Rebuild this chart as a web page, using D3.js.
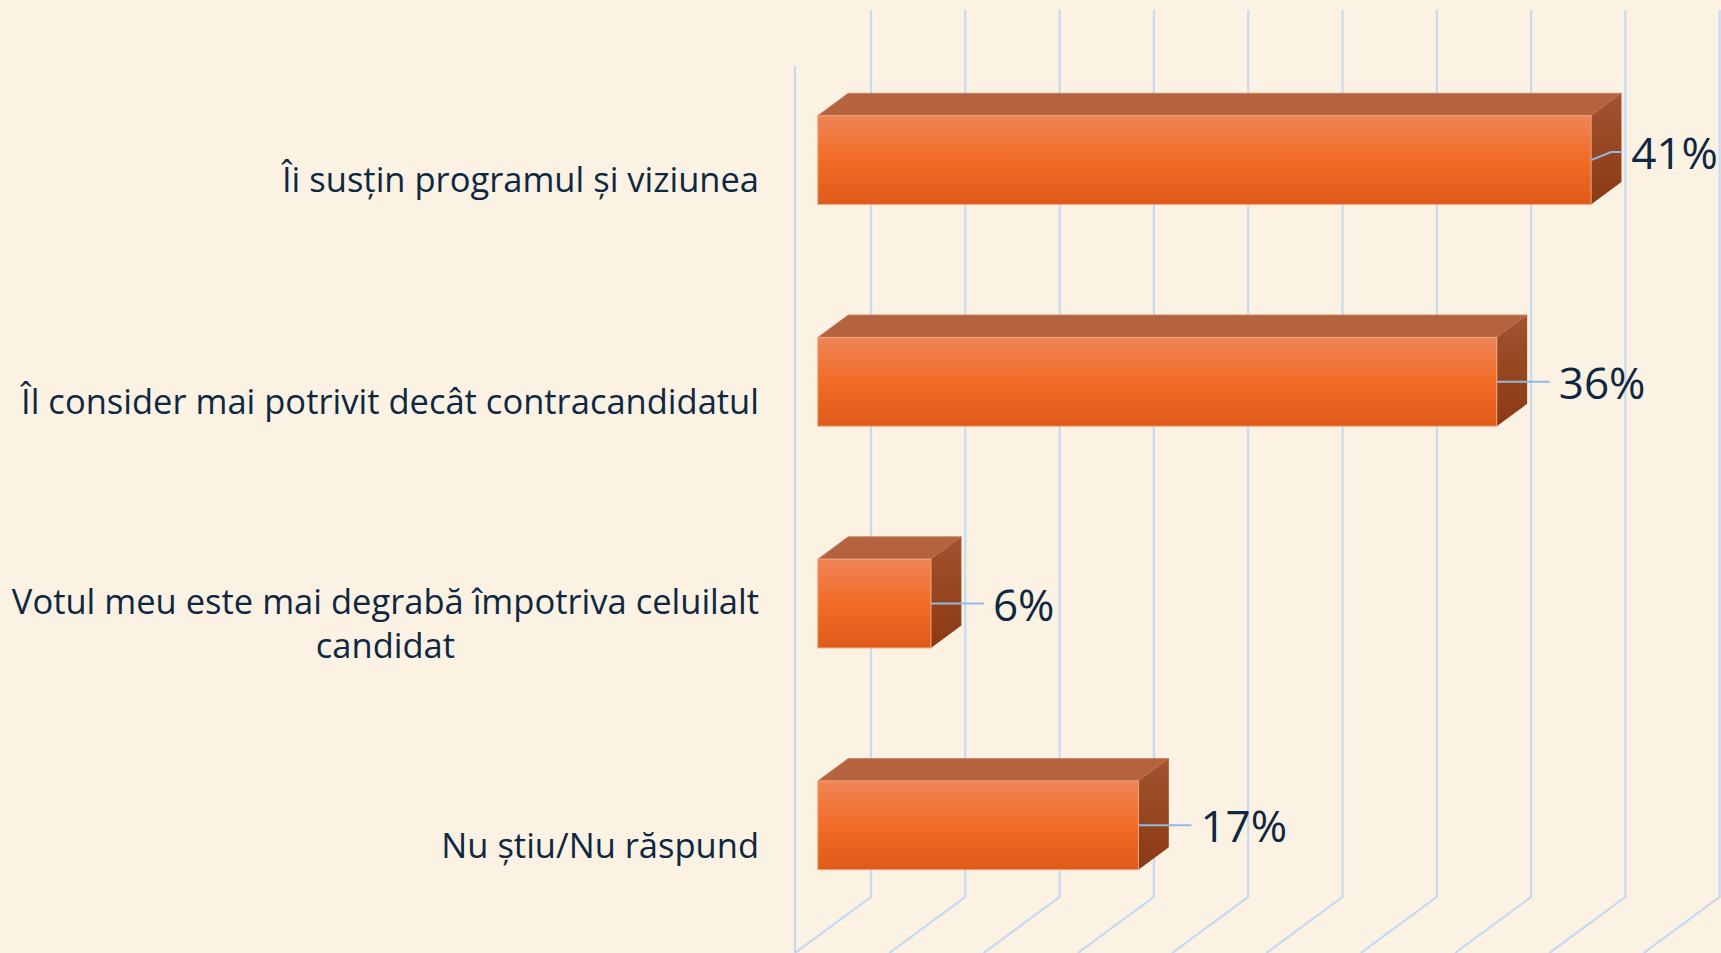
<!DOCTYPE html>
<html>
<head>
<meta charset="utf-8">
<script src="https://cdn.jsdelivr.net/npm/d3@7"></script>
<style>
  html, body { margin: 0; padding: 0; background: #fcf2e4; }
  svg { display: block; }
</style>
</head>
<body>
<svg></svg>
<script>
const categories = [
  'Îi susțin programul și viziunea',
  'Îl consider mai potrivit decât contracandidatul',
  'Votul meu este mai degrabă împotriva celuilalt candidat',
  'Nu știu/Nu răspund',
];
const values = [41, 36, 6, 17];
const ticks = [0, 5, 10, 15, 20, 25, 30, 35, 40, 45];

const width = 1721;
const height = 953;

const svg = d3.select('svg')
  .attr('width', width)
  .attr('height', height);

// front plane of the 3D box, and how far the back wall is pushed
const left = 795;
const depthX = 76;
const depthY = -56;

const x = d3.scaleLinear().domain([0, 45]).range([0, 848.7]);
const y = d3.scaleBand()
  .domain(categories)
  .range([66, 953])
  .paddingInner(0.6)
  .paddingOuter(0.3);

const proj = (v, yy, d) => [left + x(v) + d * depthX, yy + d * depthY];
const pts = arr => arr.map(p => p.join(',')).join(' ');

const defs = svg.append('defs');
const front = defs.append('linearGradient')
  .attr('id', 'front').attr('x1', 0).attr('y1', 0).attr('x2', 0).attr('y2', 1);
front.append('stop').attr('offset', '0%').attr('stop-color', '#ef8456');
front.append('stop').attr('offset', '50%').attr('stop-color', '#f26c26');
front.append('stop').attr('offset', '100%').attr('stop-color', '#df5a19');

const side = defs.append('linearGradient')
  .attr('id', 'side').attr('x1', 0).attr('y1', 0).attr('x2', 0).attr('y2', 1);
side.append('stop').attr('offset', '0%').attr('stop-color', '#a2532f');
side.append('stop').attr('offset', '100%').attr('stop-color', '#8a3913');

// back wall + floor gridlines
const yTop = y.range()[0];
const yBot = y.range()[1];
const grid = svg.append('g')
  .attr('stroke', '#c6daf0')
  .attr('stroke-width', 2.2)
  .attr('fill', 'none');

grid.selectAll('.g')
  .data(ticks)
  .enter().append('polyline')
  .attr('points', t => pts([
    proj(t, yTop, 1),
    proj(t, yBot, 1),
    proj(t, yBot, 0),
  ]));

grid.append('line')
  .attr('x1', left).attr('y1', yTop)
  .attr('x2', left).attr('y2', yBot);

// bars
const bars = svg.append('g')
  .selectAll('g')
  .data(categories.map((c, i) => ({ c, v: values[i] })))
  .enter().append('g');

const d0 = 0.3;
const d1 = 0.7;

bars.append('polygon')
  .attr('fill', '#b5633f')
  .attr('stroke', '#c7825f')
  .attr('stroke-width', 1)
  .attr('points', d => {
    const t = y(d.c);
    return pts([proj(0, t, d0), proj(d.v, t, d0), proj(d.v, t, d1), proj(0, t, d1)]);
  });

bars.append('polygon')
  .attr('fill', 'url(#side)')
  .attr('points', d => {
    const t = y(d.c);
    const b = t + y.bandwidth();
    return pts([proj(d.v, t, d0), proj(d.v, t, d1), proj(d.v, b, d1), proj(d.v, b, d0)]);
  });

bars.append('rect')
  .attr('fill', 'url(#front)')
  .attr('stroke', '#f5a57c')
  .attr('stroke-width', 1)
  .attr('x', d => proj(0, y(d.c), d0)[0])
  .attr('y', d => proj(0, y(d.c), d0)[1])
  .attr('width', d => x(d.v))
  .attr('height', y.bandwidth());

// value labels with leader lines
const labels = svg.append('g');
bars.each(function (d) {
  const [bx, by] = proj(d.v, y(d.c) + y.bandwidth() / 2, d0);
  const txt = labels.append('text')
    .attr('font-family', 'Open Sans, sans-serif')
    .attr('font-size', 44)
    .attr('fill', '#0e2841')
    .attr('dominant-baseline', 'central')
    .text(d.v + '%');
  const w = txt.node().getComputedTextLength();
  let lx = bx + 62;
  let ly = by;
  let line = [[bx, by], [lx - 9, by]];
  if (lx + w > width - 2) {
    lx = width - w - 3;
    ly = by - 8;
    line = [[bx, by], [bx + 20, ly], [lx - 9, ly]];
  }
  txt.attr('x', lx).attr('y', ly);
  labels.insert('polyline', 'text')
    .attr('points', pts(line))
    .attr('fill', 'none')
    .attr('stroke', '#8ebae3')
    .attr('stroke-width', 2);
});

// category labels, wrapped and centred like Excel does
const labelRight = 759;
const maxWidth = 780;
const lineHeight = 44;
const catG = svg.append('g')
  .attr('font-family', 'Open Sans, sans-serif')
  .attr('font-size', 34.5)
  .attr('fill', '#0e2841');

const measure = s => {
  const t = catG.append('text').text(s);
  const w = t.node().getComputedTextLength();
  t.remove();
  return w;
};

categories.forEach(c => {
  const words = c.split(' ');
  const lines = [];
  let cur = '';
  words.forEach(wd => {
    const test = cur ? cur + ' ' + wd : wd;
    if (cur && measure(test) > maxWidth) {
      lines.push(cur);
      cur = wd;
    } else {
      cur = test;
    }
  });
  lines.push(cur);

  const widest = d3.max(lines, measure);
  const cx = labelRight - widest / 2;
  const cy = y(c) + y.bandwidth() / 2 + 2;
  lines.forEach((ln, i) => {
    catG.append('text')
      .attr('x', cx)
      .attr('y', cy + (i - (lines.length - 1) / 2) * lineHeight)
      .attr('text-anchor', 'middle')
      .attr('dominant-baseline', 'central')
      .text(ln);
  });
});
</script>
</body>
</html>
